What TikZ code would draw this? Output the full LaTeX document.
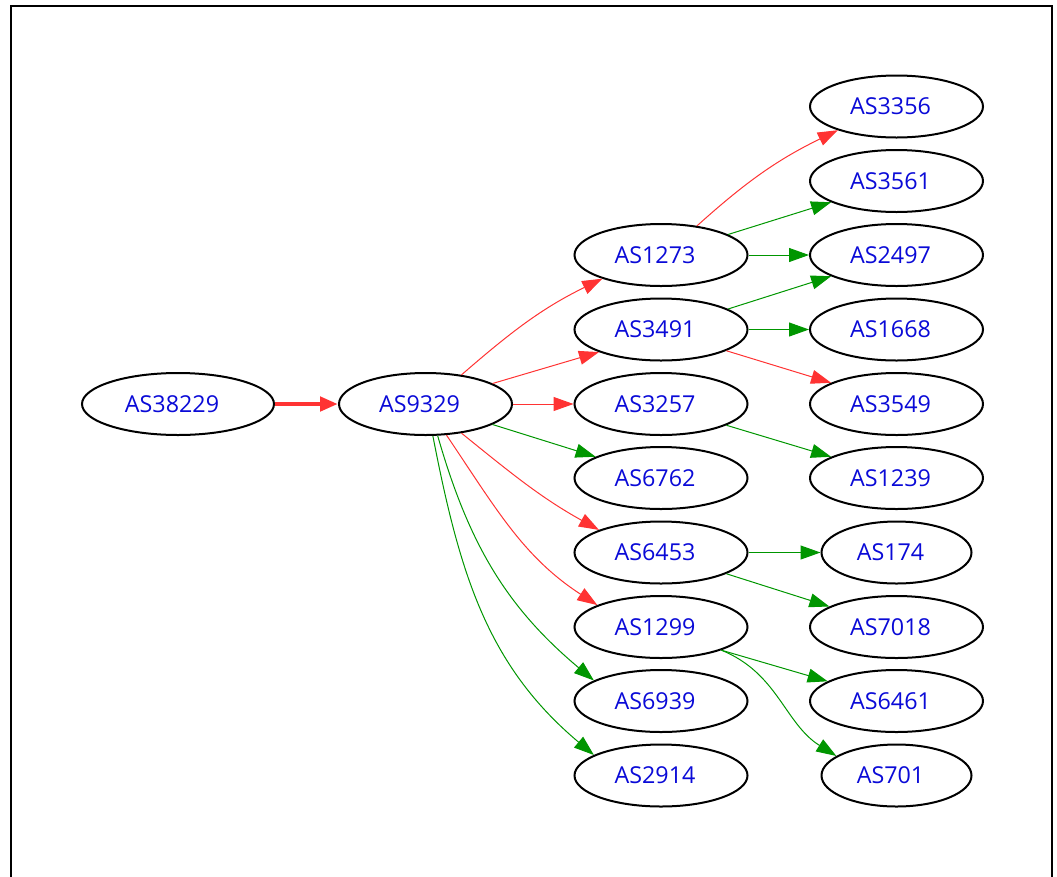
\documentclass[tikz,border=0pt]{standalone}
\usepackage{fontspec}
\setmainfont{Open Sans}
\usetikzlibrary{shapes.geometric,arrows.meta}
\definecolor{asblue}{RGB}{10,10,215}
\definecolor{edgered}{RGB}{255,51,51}
\definecolor{edgegreen}{RGB}{0,150,0}
\begin{document}
\begin{tikzpicture}[x=1pt,y=-1pt,
  asnode/.style={ellipse,draw,line width=2pt,minimum width=173pt,minimum height=62pt,
    inner sep=0pt,text=asblue,font=\fontsize{23.3}{27}\selectfont,
    execute at begin node={\kern-12pt}},
  widenode/.style={minimum width=192pt},
  slimnode/.style={minimum width=150pt},
  link/.style={line width=1pt,-{Triangle[length=20pt,width=14pt]}},
  redlink/.style={link,draw=edgered},
  greenlink/.style={link,draw=edgegreen},
  mainlink/.style={line width=4.5pt,draw=edgered,-{Triangle[length=18pt,width=14pt]}}]
\useasboundingbox (0,0) rectangle (1057,876);
% outer frame (open at the bottom)
\draw[line width=2pt] (11,880) -- (11,6) -- (1052,6) -- (1052,880);

% first two levels
\node[asnode,widenode] (a38229) at (178,404) {AS38229};
\node[asnode] (a9329) at (425.5,404) {AS9329};

% second column
\node[asnode] (a1273) at (661,255) {AS1273};
\node[asnode] (a3491) at (661,329.5) {AS3491};
\node[asnode] (a3257) at (661,404) {AS3257};
\node[asnode] (a6762) at (661,478) {AS6762};
\node[asnode] (a6453) at (661,552.5) {AS6453};
\node[asnode] (a1299) at (661,627) {AS1299};
\node[asnode] (a6939) at (661,701) {AS6939};
\node[asnode] (a2914) at (661,775.5) {AS2914};

% third column
\node[asnode] (a3356) at (896.5,106.5) {AS3356};
\node[asnode] (a3561) at (896.5,181) {AS3561};
\node[asnode] (a2497) at (896.5,255) {AS2497};
\node[asnode] (a1668) at (896.5,329.5) {AS1668};
\node[asnode] (a3549) at (896.5,404) {AS3549};
\node[asnode] (a1239) at (896.5,478) {AS1239};
\node[asnode,slimnode] (a174) at (896.5,552.5) {AS174};
\node[asnode] (a7018) at (896.5,627) {AS7018};
\node[asnode] (a6461) at (896.5,701) {AS6461};
\node[asnode,slimnode] (a701) at (896.5,775.5) {AS701};

% edges
\draw[mainlink] (a38229) -- (a9329);

\draw[redlink] (a9329.39) to[out=41,in=-154] (a1273.202);
\draw[redlink] (a9329.17) -- (a3491.200);
\draw[redlink] (a9329) -- (a3257);
\draw[greenlink] (a9329.-17) -- (a6762.162);
\draw[redlink] (a9329.-39) to[out=-39,in=151] (a6453.160);
\draw[redlink] (a9329.-56) to[out=-56,in=147] (a1299.161);
\draw[greenlink] (a9329.-69) to[out=-74,in=140] (a6939.163);
\draw[greenlink] (a9329.-77) to[out=-79,in=140] (a2914.163);

\draw[redlink] (a1273.39) to[out=42,in=-154] (a3356.202);
\draw[greenlink] (a1273.17) -- (a3561.198);
\draw[greenlink] (a1273) -- (a2497);

\draw[greenlink] (a3491.17) -- (a2497.198);
\draw[greenlink] (a3491) -- (a1668);
\draw[redlink] (a3491.-18) -- (a3549.162);

\draw[greenlink] (a3257.-18) -- (a1239.162);

\draw[greenlink] (a6453) -- (a174);
\draw[greenlink] (a6453.-18) -- (a7018.163);

\draw[greenlink] (a1299.-21) -- (a6461.164);
\draw[greenlink] (a1299.-21) to[out=-22,in=148] (a701.162);
\end{tikzpicture}
\end{document}
